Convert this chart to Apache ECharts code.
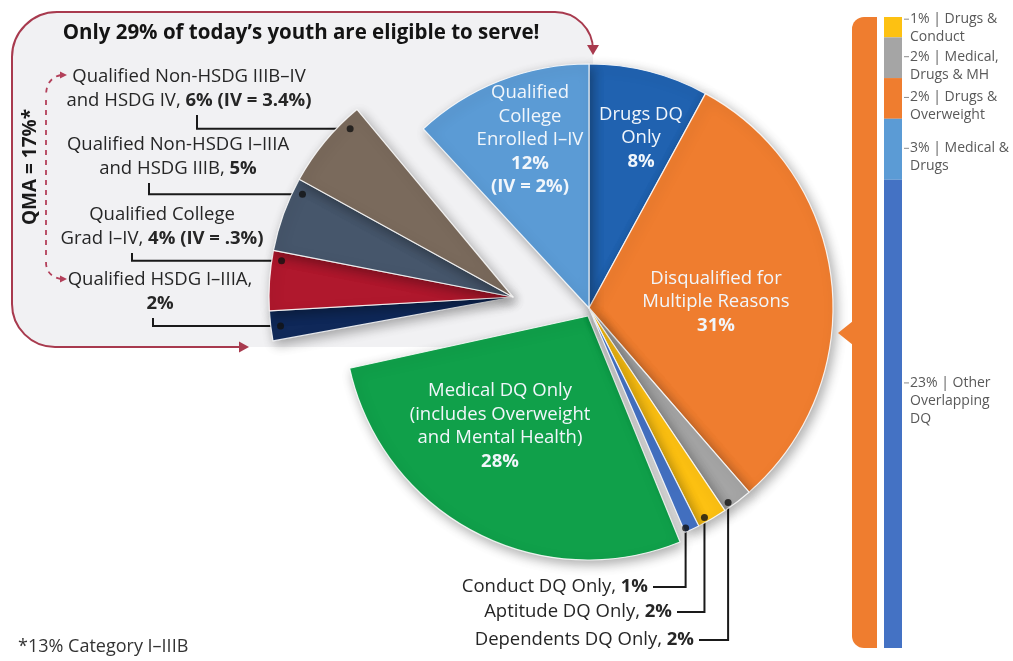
<!DOCTYPE html>
<html><head><meta charset="utf-8">
<script src="https://cdn.jsdelivr.net/npm/echarts@6/dist/echarts.min.js"></script>
<style>html,body{margin:0;padding:0;background:#fff}#c{width:1013px;height:661px}</style>
</head><body><div id="c"></div>
<script>
// ---------- DATA ----------
const sliceNames = ['Drugs DQ Only', 'Disqualified for Multiple Reasons', 'Dependents DQ Only', 'Aptitude DQ Only', 'Conduct DQ Only',
  'Medical DQ Only (includes Overweight and Mental Health)', 'Qualified HSDG I–IIIA', 'Qualified College Grad I–IV',
  'Qualified Non-HSDG I–IIIA and HSDG IIIB', 'Qualified Non-HSDG IIIB–IV and HSDG IV', 'Qualified College Enrolled I–IV'];
const sliceWrapped = ['Drugs DQ\nOnly', 'Disqualified for\nMultiple Reasons', 'Dependents DQ Only', 'Aptitude DQ Only', 'Conduct DQ Only',
  'Medical DQ Only\n(includes Overweight\nand Mental Health)', 'Qualified HSDG I–IIIA', 'Qualified College\nGrad I–IV',
  'Qualified Non-HSDG I–IIIA\nand HSDG IIIB', 'Qualified Non-HSDG IIIB–IV\nand HSDG IV', 'Qualified\nCollege\nEnrolled I–IV'];
const sliceValues = [8, 31, 2, 2, 1, 28, 2, 4, 5, 6, 12];
const sliceNotes = ['', '', '', '', '', '', '', 'IV = .3%', '', 'IV = 3.4%', 'IV = 2%'];
const sliceGroups = ['main', 'main', 'main', 'main', 'main', 'green', 'left', 'left', 'left', 'left', 'main'];

const multiParts = ['Drugs &\nConduct', 'Medical,\nDrugs & MH', 'Drugs &\nOverweight', 'Medical &\nDrugs', 'Other\nOverlapping\nDQ'];
const multiValues = [1, 2, 2, 3, 23];

const titleText = 'Only 29% of today’s youth are eligible to serve!';
const qmaText = 'QMA = 17%*';
const footText = '*13% Category I–IIIB';

// ---------- STYLE ----------
const sliceColors = ['#2062b0', '#ef7d2f', '#a5a5a5', '#fdc112', '#4472c4', '#10a04a', '#10295a', '#b0182d', '#46566b', '#7a6a5c', '#5b9bd5'];
const multiColors = ['#fdc112', '#a5a5a5', '#ef7d2f', '#5b9bd5', '#4472c4'];
const FONT = "'Open Sans', 'Noto Sans', sans-serif";
const RED = '#a83a4e';
const LFS = 18.5;

const total = sliceValues.reduce((a, b) => a + b, 0);
const cum = []; let acc = 0; sliceValues.forEach(v => { cum.push(acc); acc += v; });

const R = 244;
const centers = { main: [589, 308], green: [588, 316], left: [513, 297] };
const starts = { main: 90, green: 89, left: 87 };

const lay = {
  0: { kind: 'in', x: 641, y: 138 },
  1: { kind: 'in', x: 716, y: 302 },
  5: { kind: 'in', x: 500, y: 426 },
  10: { kind: 'in', x: 530, y: 140 },
  9: { kind: 'left', x: 189, y: 112, ax: 197, r: 0.96, f: 0.8, fmt: 'inline' },
  8: { kind: 'left', x: 178, y: 180, ax: 149, r: 0.96, f: 0.84, fmt: 'inline' },
  7: { kind: 'left', x: 162, y: 250, ax: 132, r: 0.96, f: 0.85, fmt: 'inline' },
  6: { kind: 'left', x: 160, y: 315, ax: 153, r: 0.96, f: 0.46, fmt: 'break' },
  4: { kind: 'bot', x: 648, y: 587, r: 0.985, f: 0.85 },
  3: { kind: 'bot', x: 672, y: 612, r: 0.98, f: 0.7 },
  2: { kind: 'bot', x: 694, y: 640, r: 0.98, f: 0.76 }
};

function dotAngleValue(i) { return cum[i] + lay[i].f * sliceValues[i]; }
function dotXY(i) {
  const g = sliceGroups[i], c = centers[g];
  const th = ((90 - starts[g]) + dotAngleValue(i) / total * 360) * Math.PI / 180;
  const r = lay[i].r * R;
  return [c[0] + r * Math.sin(th), c[1] - r * Math.cos(th)];
}
function fmtLabel(i) {
  const L = lay[i], v = sliceValues[i], n = sliceNotes[i], w = sliceWrapped[i];
  if (L.kind === 'in') return w + '\n{b|' + v + '%}' + (n ? '\n{b|(' + n + ')}' : '');
  if (L.kind === 'left') {
    const pct = v + '%' + (n ? ' (' + n + ')' : '');
    return L.fmt === 'break' ? w + ',\n{b|' + pct + '}' : w + ', {b|' + pct + '}';
  }
  return w + ', {b|' + v + '%}';
}
function labelFor(i) {
  const L = lay[i];
  if (L.kind === 'in') {
    return { show: true, position: 'inside', formatter: fmtLabel(i), color: '#f1f6fb', fontSize: LFS, lineHeight: 23.5, fontFamily: FONT, align: 'center',
      rich: { b: { fontWeight: 'bold', color: '#f1f6fb', fontSize: LFS, lineHeight: 23.5, fontFamily: FONT, align: 'center' } } };
  }
  return { show: true, position: 'outside', formatter: fmtLabel(i), color: '#262626', fontSize: LFS, lineHeight: 23.5, fontFamily: FONT,
    align: L.kind === 'left' ? 'center' : 'right',
    rich: { b: { fontWeight: 'bold', color: '#262626', fontSize: LFS, lineHeight: 23.5, fontFamily: FONT } } };
}

function pieSeries(g) {
  return {
    type: 'pie', name: g, center: centers[g], radius: R, startAngle: starts[g], clockwise: true,
    avoidLabelOverlap: false, silent: true, emphasis: { disabled: true }, animation: false,
    itemStyle: { borderColor: 'rgba(255,255,255,0.85)', borderWidth: 1.2, shadowBlur: 12, shadowColor: 'rgba(0,0,0,0.33)', shadowOffsetX: 3, shadowOffsetY: 4 },
    data: sliceNames.map((nm, i) => {
      const mine = sliceGroups[i] === g;
      return {
        name: nm, value: sliceValues[i],
        itemStyle: mine ? { color: sliceColors[i] } : { color: 'rgba(0,0,0,0)', borderWidth: 0, shadowBlur: 0, shadowColor: 'rgba(0,0,0,0)' },
        label: mine ? labelFor(i) : { show: false },
        labelLine: { show: mine && lay[i].kind !== 'in', length: 8, length2: 8, lineStyle: { color: '#1a1a1a', width: 2 } }
      };
    }),
    labelLayout: function (p) {
      const i = p.dataIndex, L = lay[i];
      if (sliceGroups[i] !== g || !L) return {};
      if (L.kind === 'in') return { x: L.x, y: L.y, align: 'center', verticalAlign: 'middle' };
      const d = dotXY(i);
      if (L.kind === 'left') return { x: L.x, y: L.y, align: 'center', verticalAlign: 'bottom', labelLinePoints: [d, [L.ax, d[1]], [L.ax, L.y + 3]] };
      return { x: L.x, y: L.y, align: 'right', verticalAlign: 'middle', labelLinePoints: [d, [d[0], L.y], [L.x + 5, L.y]] };
    }
  };
}

function dotData(g) {
  return Object.keys(lay).map(Number).filter(i => lay[i].kind !== 'in' && sliceGroups[i] === g).map(i => [lay[i].r, dotAngleValue(i)]);
}

const boxStroke = { fill: 'none', stroke: RED, lineWidth: 2 };
const dashStroke = { fill: 'none', stroke: '#b3405a', lineWidth: 1.8, lineDash: [5, 5] };

const chart = echarts.init(document.getElementById('c'), null, { renderer: 'canvas' });
const option = {
  animation: false,
  backgroundColor: '#ffffff',
  polar: [
    { center: centers.main, radius: R },
    { center: centers.left, radius: R }
  ],
  angleAxis: [
    { polarIndex: 0, type: 'value', min: 0, max: total, startAngle: starts.main, clockwise: true, show: false },
    { polarIndex: 1, type: 'value', min: 0, max: total, startAngle: starts.left, clockwise: true, show: false }
  ],
  radiusAxis: [
    { polarIndex: 0, type: 'value', min: 0, max: 1, show: false },
    { polarIndex: 1, type: 'value', min: 0, max: 1, show: false }
  ],
  grid: [
    { left: 852, top: 17, width: 25, height: 631 },
    { left: 884, top: 17, width: 18, height: 631 }
  ],
  xAxis: [
    { type: 'category', gridIndex: 0, data: ['m'], show: false },
    { type: 'category', gridIndex: 1, data: ['m'], show: false }
  ],
  yAxis: [
    { type: 'value', gridIndex: 0, min: 0, max: sliceValues[1], inverse: true, show: false },
    { type: 'value', gridIndex: 1, min: 0, max: multiValues.reduce((a, b) => a + b, 0), inverse: true, show: false }
  ],
  graphic: [
    { type: 'rect', z: 0, shape: { x: 12, y: 12, width: 581, height: 335, r: [45, 38, 0, 43] }, style: { fill: '#f1f1f3' } },
    { type: 'arc', z: 1, shape: { cx: 57, cy: 57, r: 45, startAngle: Math.PI, endAngle: Math.PI * 1.5, clockwise: true }, style: boxStroke },
    { type: 'line', z: 1, shape: { x1: 57, y1: 12, x2: 555, y2: 12 }, style: boxStroke },
    { type: 'arc', z: 1, shape: { cx: 555, cy: 50, r: 38, startAngle: Math.PI * 1.5, endAngle: Math.PI * 2, clockwise: true }, style: boxStroke },
    { type: 'line', z: 1, shape: { x1: 12, y1: 57, x2: 12, y2: 304 }, style: boxStroke },
    { type: 'arc', z: 1, shape: { cx: 55, cy: 304, r: 43, startAngle: Math.PI * 0.5, endAngle: Math.PI, clockwise: true }, style: boxStroke },
    { type: 'line', z: 1, shape: { x1: 55, y1: 347, x2: 242, y2: 347 }, style: boxStroke },
    { type: 'polygon', z: 1, shape: { points: [[587, 45], [599, 45], [593, 55]] }, style: { fill: RED } },
    { type: 'polygon', z: 1, shape: { points: [[239, 341.5], [239, 352.5], [249, 347]] }, style: { fill: RED } },
    { type: 'bezierCurve', z: 1, shape: { x1: 61, y1: 75, cpx1: 46, cpy1: 78, x2: 46, y2: 96 }, style: dashStroke },
    { type: 'line', z: 1, shape: { x1: 46, y1: 100, x2: 46, y2: 258 }, style: dashStroke },
    { type: 'bezierCurve', z: 1, shape: { x1: 46, y1: 262, cpx1: 46, cpy1: 276, x2: 61, y2: 279 }, style: dashStroke },
    { type: 'polygon', z: 1, shape: { points: [[60, 71.5], [60, 78.5], [67, 75]] }, style: { fill: '#b3405a' } },
    { type: 'polygon', z: 1, shape: { points: [[60, 275.5], [60, 282.5], [67, 279]] }, style: { fill: '#b3405a' } },
    { type: 'text', z: 3, x: 301, y: 33, style: { text: titleText, font: 'bold 20.5px ' + FONT, fill: '#141414', align: 'center', verticalAlign: 'middle', textAlign: 'center', textVerticalAlign: 'middle' } },
    { type: 'text', z: 3, x: 31, y: 167, rotation: Math.PI / 2, style: { text: qmaText, font: 'bold 19px ' + FONT, fill: '#1a1a1a', align: 'center', verticalAlign: 'middle', textAlign: 'center', textVerticalAlign: 'middle' } },
    { type: 'text', z: 3, x: 18, y: 647, style: { text: footText, font: '18px ' + FONT, fill: '#333', align: 'left', verticalAlign: 'middle', textAlign: 'left', textVerticalAlign: 'middle' } },
    { type: 'polygon', z: 3, shape: { points: [[853, 321], [838, 333], [853, 345]] }, style: { fill: '#ef7d2f' } }
  ],
  series: [
    pieSeries('left'),
    pieSeries('green'),
    pieSeries('main'),
    { type: 'scatter', coordinateSystem: 'polar', polarIndex: 0, data: dotData('main'), symbolSize: 7, itemStyle: { color: '#111' }, z: 6, silent: true },
    { type: 'scatter', coordinateSystem: 'polar', polarIndex: 1, data: dotData('left'), symbolSize: 7, itemStyle: { color: '#111' }, z: 6, silent: true },
    { type: 'bar', xAxisIndex: 0, yAxisIndex: 0, data: [sliceValues[1]], barWidth: '100%', silent: true, itemStyle: { color: '#ef7d2f', borderRadius: [12, 0, 0, 12] } }
  ].concat(multiValues.map((v, k) => ({
    type: 'bar', xAxisIndex: 1, yAxisIndex: 1, stack: 'm', data: [v], barWidth: '100%', silent: true,
    itemStyle: { color: multiColors[k] },
    label: {
      show: true, position: 'right', distance: 2, offset: [0, k === 0 ? 1 : (k === 4 ? -13 : 8)],
      formatter: () => {
        const lines = multiParts[k].split('\n');
        return '{d| }{t|' + v + '% | ' + lines[0] + '}' + lines.slice(1).map(s => '\n{s| }{t|' + s + '}').join('');
      },
      rich: {
        d: { width: 5, height: 1, backgroundColor: '#8a8a8a', padding: 0 },
        s: { width: 5 },
        t: { fontSize: 14, lineHeight: 18, color: '#595959', fontFamily: FONT, padding: [0, 0, 0, 1] }
      }
    }
  })))
};
chart.setOption(option);
</script>
</body></html>
